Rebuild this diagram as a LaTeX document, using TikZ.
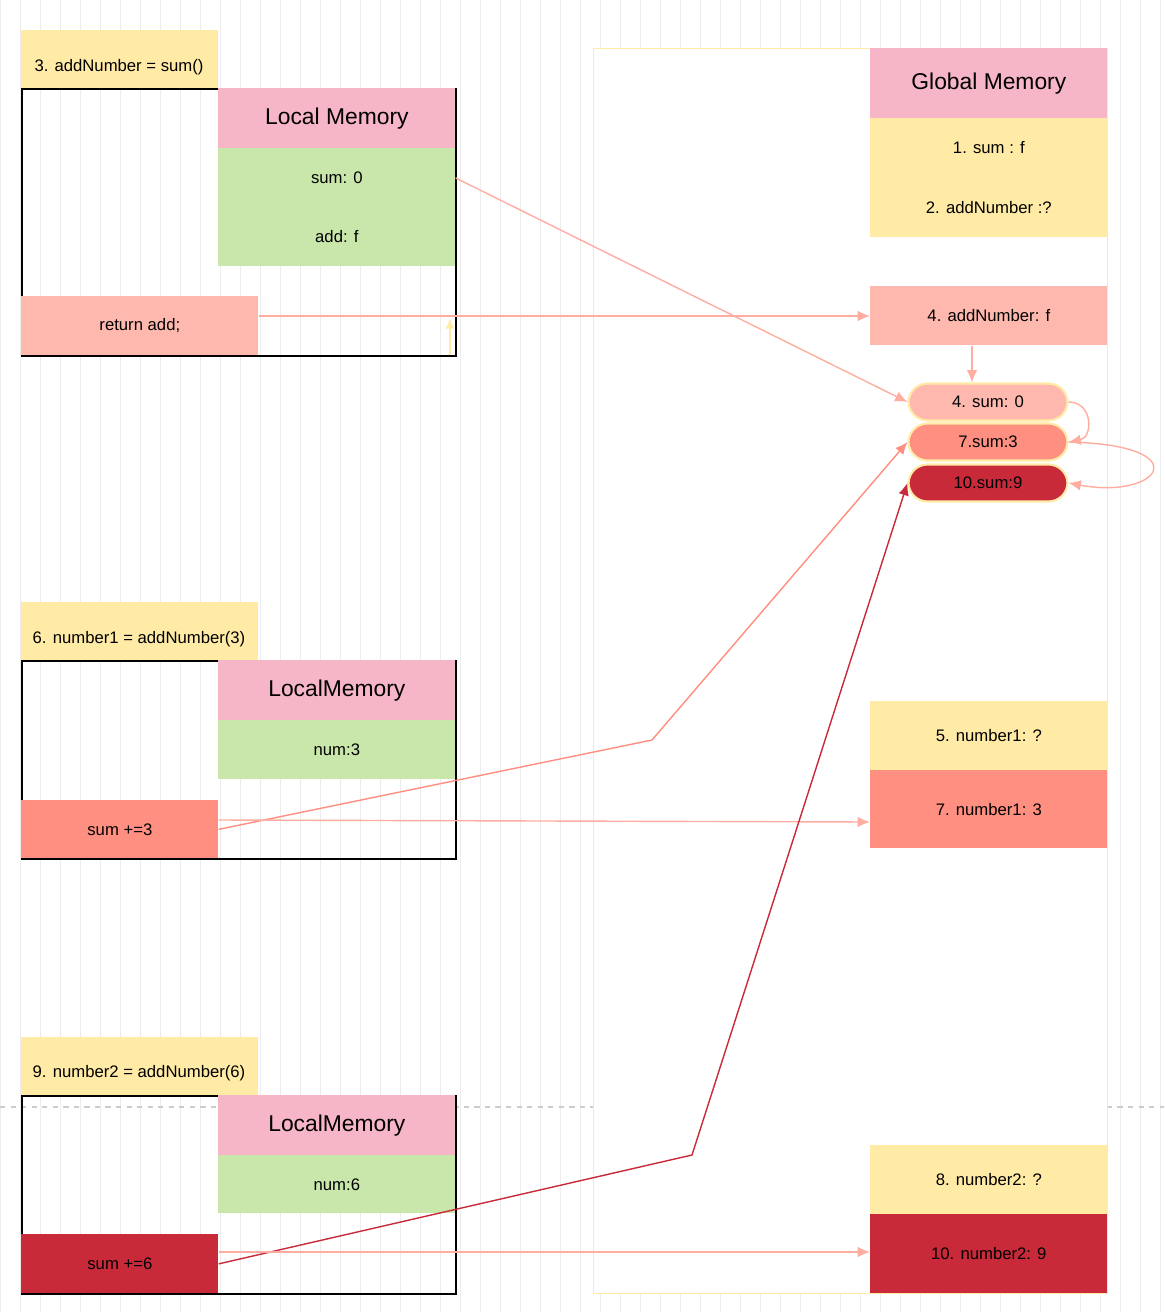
\documentclass[tikz,border=0pt]{standalone}
\usepackage{fontspec}
\setmainfont{Liberation Sans}
\usetikzlibrary{positioning}
\definecolor{yel}{RGB}{255,235,166}
\definecolor{pnk}{RGB}{247,181,200}
\definecolor{grn}{RGB}{201,231,170}
\definecolor{sal}{RGB}{255,184,173}
\definecolor{cor}{RGB}{255,143,128}
\definecolor{crim}{RGB}{201,42,58}
\definecolor{lnk}{RGB}{255,173,160}
\definecolor{gridc}{RGB}{236,236,236}
\tikzset{
    box/.style 2 args={anchor=north west,inner sep=0pt,
        minimum width=#1*0.02cm,minimum height=#2*0.02cm,
        font=\fontsize{9.5}{11}\selectfont,align=center},
    head/.style={font=\fontsize{13}{15}\selectfont},
    pill/.style={rounded corners=0.38cm,draw=yel,line width=1.2pt,
        minimum width=3.18cm,minimum height=0.74cm,inner sep=0pt,
        font=\fontsize{9.5}{11}\selectfont},
    link/.style={draw=lnk,line width=0.8pt,-{Latex[length=7pt,width=6pt]}},
}
\usetikzlibrary{arrows.meta}
\begin{document}
\begin{tikzpicture}[x=0.02cm,y=-0.02cm]
    \useasboundingbox (0,0) rectangle (1164,1312);
    % grid
    \draw[gridc,line width=0.4pt] (0,0) grid[step=20] (1164,1312);
    \draw[gray!40,dashed,line width=1pt] (0,1107) -- (1164,1107);
    % global memory
    \node[box={514}{1245},draw=yel,fill=white,line width=0.8pt] (glob) at (593,48) {};
    \node[box={237}{70},fill=pnk,head] (gmem) at (870,48) {Global Memory};
    \node[box={237}{119},fill=yel] (gvars) at (870,118) {1. sum : f\\[0.82cm]2. addNumber :?};
    \node[box={237}{59},fill=sal] (gadd) at (870,286) {4. addNumber: f};
    \node[pill,fill=sal] (s0) at (988,402) {4. sum: 0};
    \node[pill,fill=cor] (s3) at (988,442) {7.sum:3};
    \node[pill,fill=crim] (s9) at (988,483) {10.sum:9};
    \node[box={237}{69},fill=yel] (n1q) at (870,701) {5. number1: ?};
    \node[box={237}{78},fill=cor] (n1) at (870,770) {7. number1: 3};
    \node[box={237}{69},fill=yel] (n2q) at (870,1145) {8. number2: ?};
    \node[box={237}{79},fill=crim] (n2) at (870,1214) {10. number2: 9};
    % call 1
    \node[box={197}{58},fill=yel] (t1) at (21,30) {};
    \node[font=\fontsize{9.5}{11}\selectfont] (t1txt) at (119,67) {3. addNumber = sum()};
    \node[box={434}{267},draw=black,line width=1pt] (f1) at (21,88) {};
    \node[box={237}{60},fill=pnk,head] (lm1) at (218,88) {Local Memory};
    \node[box={237}{118},fill=grn] (lv1) at (218,148) {sum: 0\\[0.8cm]add: f};
    \node[box={237}{59},fill=sal] (ret) at (21,296) {return add;};
    \coordinate (up0) at (450,355);
    \coordinate (up1) at (450,318);
    % call 2
    \node[box={237}{58},fill=yel] (t2) at (21,602) {};
    \node[font=\fontsize{9.5}{11}\selectfont] (t2txt) at (139,639) {6. number1 = addNumber(3)};
    \node[box={434}{198},draw=black,line width=1pt] (f2) at (21,660) {};
    \node[box={237}{60},fill=pnk,head] (lm2) at (218,660) {LocalMemory};
    \node[box={237}{59},fill=grn] (lv2) at (218,720) {num:3};
    \node[box={197}{58},fill=cor] (add3) at (21,800) {sum +=3};
    \coordinate (k3) at (652,740);
    % call 3
    \node[box={237}{58},fill=yel] (t3) at (21,1037) {};
    \node[font=\fontsize{9.5}{11}\selectfont] (t3txt) at (139,1073) {9. number2 = addNumber(6)};
    \node[box={434}{198},draw=black,line width=1pt] (f3) at (21,1095) {};
    \node[box={237}{60},fill=pnk,head] (lm3) at (218,1095) {LocalMemory};
    \node[box={237}{58},fill=grn] (lv3) at (218,1155) {num:6};
    \node[box={197}{59},fill=crim] (add6) at (21,1234) {sum +=6};
    \coordinate (k6) at (692,1155);
    % links
    \draw[link] (lv1.east |- 0,178) -- (s0.west);
    \draw[link] (ret.east |- 0,316) -- (gadd.west |- 0,316);
    \draw[draw=yel,line width=1pt,-{Latex[length=6pt,width=5pt]}] (up0) -- (up1);
    \draw[link] (gadd.south -| 972,0) -- (s0.north -| 972,0);
    \draw[link] (s0.east) to[out=0,in=10,looseness=1.6] (s3.east);
    \draw[link] (s3.east) .. controls (1200,445) and (1160,500) .. (s9.east);
    \draw[link,draw=cor] (add3.east) -- (k3) -- (s3.west);
    \draw[link] (add3.east |- 0,820) -- (n1.west |- 0,822);
    \draw[link,draw=crim] (add6.east) -- (k6) -- (s9.west);
    \draw[link] (add6.east |- 0,1252) -- (n2.west |- 0,1252);
\end{tikzpicture}
\end{document}
